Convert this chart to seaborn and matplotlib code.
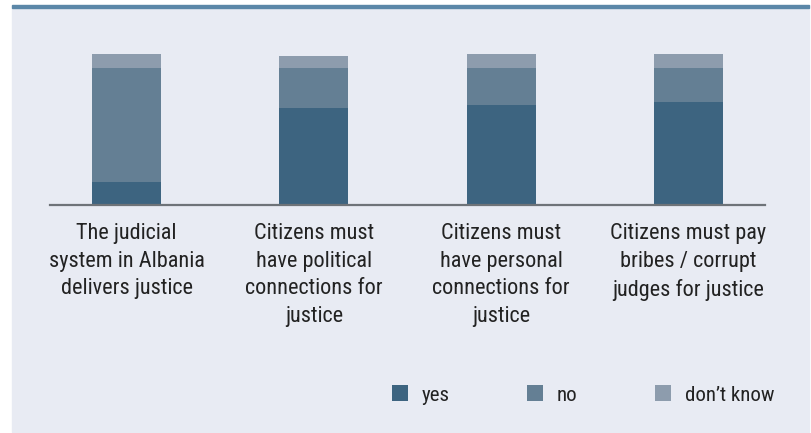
import matplotlib
matplotlib.use("Agg")
import matplotlib.pyplot as plt
from matplotlib.patches import Rectangle, Patch
import seaborn as sns
import pandas as pd

# Survey statements and answer shares (%)
categories = [
    "The judicial\nsystem in Albania\ndelivers justice",
    "Citizens must\nhave political\nconnections for\njustice",
    "Citizens must\nhave personal\nconnections for\njustice",
    "Citizens must pay\nbribes / corrupt\njudges for justice",
]
yes = [15, 64, 66, 68]
no = [76, 27, 25, 23]
dont_know = [9, 8, 9, 9]

answer_labels = ["yes", "no", "don\u2019t know"]
colors = {"yes": "#3d6480", "no": "#647f94", "don\u2019t know": "#8d9cad"}
panel_bg = "#e8ebf3"
rule_color = "#5b87a8"
text_color = "#222222"

sns.set_theme(style="white")
plt.rcParams["font.family"] = ["Roboto Condensed", "Liberation Sans Narrow",
                               "Liberation Sans", "DejaVu Sans"]

W, H = 812, 433
fig = plt.figure(figsize=(W / 100, H / 100), dpi=100, facecolor="white")

# light panel with a blue rule along its top
fig.patches.append(Rectangle((12 / W, 1 - 432 / H), (809 - 12) / W, (432 - 8) / H,
                             transform=fig.transFigure, color=panel_bg, zorder=-3))
fig.patches.append(Rectangle((12 / W, 1 - 8 / H), (809 - 12) / W, 3 / H,
                             transform=fig.transFigure, color=rule_color, zorder=-2))

ax = fig.add_axes([50 / W, 1 - 205 / H, 715 / W, 151 / H])
ax.set_facecolor("none")
ax.set_zorder(2)

df = pd.DataFrame({"category": categories, "yes": yes, "no": no, "dk": dont_know})
df["yes_no"] = df["yes"] + df["no"]
df["total"] = df["yes_no"] + df["dk"]

bw = 0.369
for col, lab in [("total", "don\u2019t know"), ("yes_no", "no"), ("yes", "yes")]:
    sns.barplot(data=df, x="category", y=col, color=colors[lab], width=bw,
                saturation=1, ax=ax, errorbar=None, linewidth=0)

ax.set_xlim(-0.41, 3.41)
ax.set_ylim(0, 100)
ax.set_xlabel("")
ax.set_ylabel("")
ax.set_yticks([])
for s in ["top", "right", "left"]:
    ax.spines[s].set_visible(False)
ax.spines["bottom"].set_color("#6e7378")
ax.spines["bottom"].set_linewidth(1.6)
ax.tick_params(axis="x", length=0, pad=13, labelsize=16, labelcolor=text_color)
for t in ax.get_xticklabels():
    t.set_linespacing(1.42)
    t.set_horizontalalignment("center")

handles = [Patch(facecolor=colors[l], edgecolor="none") for l in answer_labels]
leg = fig.legend(handles, answer_labels, loc="center left",
                 bbox_to_anchor=(373 / W, 1 - 395 / H), ncol=3, frameon=False,
                 fontsize=15, handlelength=0.77, handleheight=0.77,
                 handletextpad=0.67, columnspacing=3.7, labelcolor=text_color)
leg.set_zorder(3)

fig.savefig("out.png", dpi=100, facecolor="white")
